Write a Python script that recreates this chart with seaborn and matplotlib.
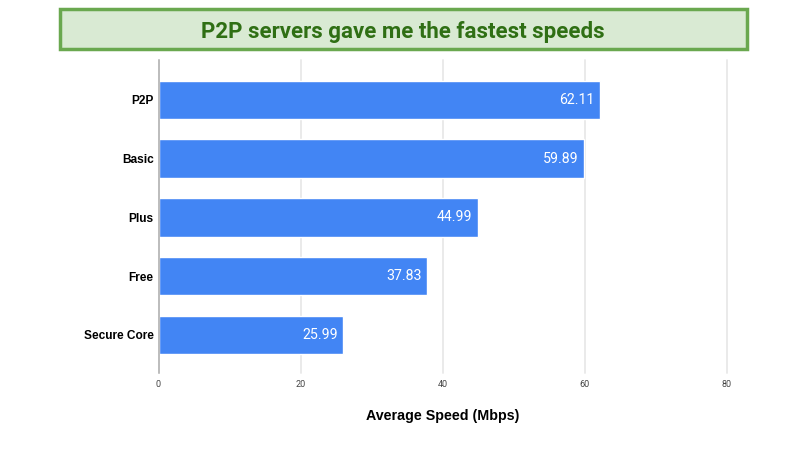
import pandas as pd
import matplotlib
matplotlib.use("Agg")
import matplotlib.pyplot as plt
from matplotlib.patches import Rectangle
import seaborn as sns

# Chart data
servers = ['P2P', 'Basic', 'Plus', 'Free', 'Secure Core']
speeds = [62.11, 59.89, 44.99, 37.83, 25.99]
x_ticks = [0, 20, 40, 60, 80]

TITLE = "P2P servers gave me the fastest speeds"
X_LABEL = "Average Speed (Mbps)"

W, H = 806, 453

sns.set_theme(style="white")
plt.rcParams['font.family'] = ['Liberation Sans', 'DejaVu Sans']

df = pd.DataFrame({'Server': servers, 'Speed': speeds})

fig = plt.figure(figsize=(W / 100, H / 100), dpi=100, facecolor='white')
# axes placed by pixel: x 158.5-727, y 60-373
ax = fig.add_axes([158.5 / W, 1 - 373 / H, (727 - 158.5) / W, (373 - 60) / H])

sns.barplot(data=df, x='Speed', y='Server', color='#4285f4', saturation=1,
            width=0.655, ax=ax, zorder=3)

ax.set_xlim(0, 80)
ax.set_ylim(4.647, -0.68)
ax.set_xticks(x_ticks)
ax.set_xticklabels(x_ticks, fontsize=6.5, color='#444444', family='Roboto')
ax.tick_params(axis='x', length=0, pad=5)
ax.tick_params(axis='y', length=0, pad=3.5)
for lbl in ax.get_yticklabels():
    lbl.set_fontsize(8.6)
    lbl.set_fontweight('bold')
    lbl.set_color('black')

ax.grid(False)
for t in x_ticks[1:]:
    ax.axvline(t, color='#e8e8e8', lw=1.3, zorder=1, clip_on=False)
for side in ['top', 'right', 'bottom']:
    ax.spines[side].set_visible(False)
ax.spines['left'].set_color('#aaaaaa')
ax.spines['left'].set_linewidth(1.1)
ax.spines['left'].set_zorder(4)

ax.set_xlabel('')
ax.set_ylabel('')

# value labels inside the bars
for container in ax.containers:
    texts = ax.bar_label(container, labels=[f"{v:.2f}" for v in speeds], label_type='edge',
                         padding=-4, color='white', fontsize=10.2, family='Roboto', zorder=5)
    for txt in texts:
        txt.set_ha('right')

fig.text(443 / W, 1 - 416 / H, X_LABEL, ha='center', va='center',
         fontsize=10.3, fontweight='bold', color='black')

# Title banner
fig.add_artist(Rectangle((59.5 / W, 1 - 49 / H), 687.5 / W, 40 / H, transform=fig.transFigure,
                         facecolor='#d9ead3', edgecolor='#6aa84f', linewidth=2.5))
fig.text(403 / W, 1 - 32 / H, TITLE, ha='center', va='center', fontsize=16,
         fontweight='bold', color='#2f6f14', family='Roboto')

fig.savefig('out.png', dpi=100)
plt.close(fig)
